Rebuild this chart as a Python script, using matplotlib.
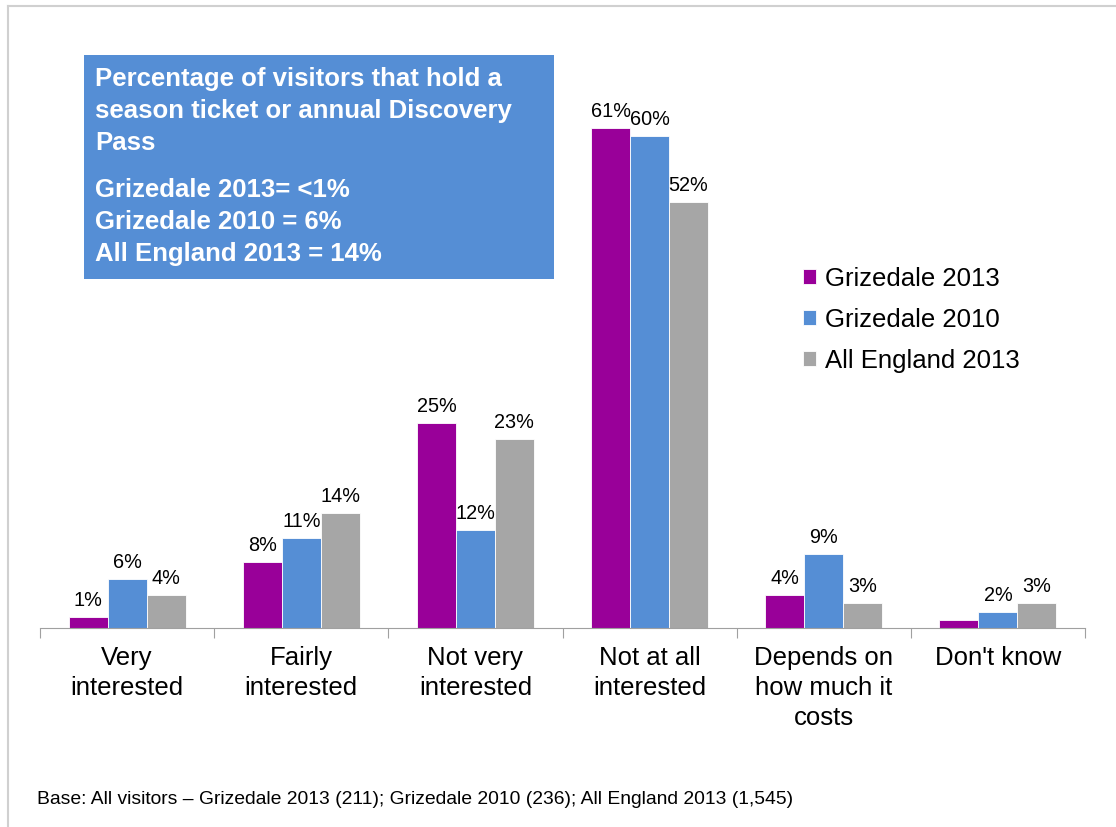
import numpy as np
import matplotlib.pyplot as plt
from matplotlib.lines import Line2D
from matplotlib.patches import Rectangle

plt.rcParams['font.family'] = ['Liberation Sans', 'DejaVu Sans']

categories = ["Very\ninterested", "Fairly\ninterested", "Not very\ninterested",
              "Not at all\ninterested", "Depends on\nhow much it\ncosts", "Don't know"]
series = ["Grizedale 2013", "Grizedale 2010", "All England 2013"]
griz_2013 = [1.3, 8, 25, 61, 4, 1]
griz_2010 = [6, 11, 12, 60, 9, 2]
england_2013 = [4, 14, 23, 52, 3, 3]
# printed labels (the Grizedale 2013 "Don't know" bar carries none)
labels_2013 = ["1%", "8%", "25%", "61%", "4%", ""]
labels_2010 = ["6%", "11%", "12%", "60%", "9%", "2%"]
labels_eng = ["4%", "14%", "23%", "52%", "3%", "3%"]
colors = ["#990099", "#558ED5", "#A6A6A6"]

W, H = 1116, 827
fig = plt.figure(figsize=(W / 100, H / 100), dpi=100)

# light frame line along top and left
fig.add_artist(Line2D([8 / W, 8 / W], [0, 1 - 6 / H], color="#D0D0D0", lw=1.5))
fig.add_artist(Line2D([8 / W, 1], [1 - 6 / H, 1 - 6 / H], color="#D0D0D0", lw=1.5))

ax = fig.add_axes([40 / W, 1 - 628 / H, (1085 - 40) / W, (628 - 54) / H])
x = np.arange(len(categories))
bw = 0.224
for k, (vals, labs) in enumerate(zip([griz_2013, griz_2010, england_2013],
                                     [labels_2013, labels_2010, labels_eng])):
    xs = x + (k - 1) * bw
    ax.bar(xs, vals, bw, color=colors[k], edgecolor="white", linewidth=0.6,
           label=series[k])
    for xi, v, lab in zip(xs, vals, labs):
        if lab:
            ax.annotate(lab, (xi, v), xytext=(0, 5), textcoords="offset points",
                        ha="center", va="bottom", fontsize=14.3)

ax.set_xlim(-0.5, len(categories) - 0.5)
ax.set_ylim(0, 70)
for s in ["top", "right", "left"]:
    ax.spines[s].set_visible(False)
ax.spines["bottom"].set_color("#A0A0A0")
ax.set_yticks([])
ax.set_xticks(np.arange(len(categories) + 1) - 0.5)
ax.set_xticklabels([])
ax.tick_params(axis="x", length=7, color="#A0A0A0")
for xi, c in zip(x, categories):
    ax.text(xi, -2.2, c, ha="center", va="top", fontsize=18.5,
            linespacing=1.32, transform=ax.transData)

leg = ax.legend(loc="upper left", bbox_to_anchor=(790 / W, 1 - 254 / H),
                bbox_transform=fig.transFigure, frameon=False, fontsize=18.5,
                handlelength=0.5, handleheight=0.5, handletextpad=0.35,
                labelspacing=0.66, borderpad=0)

# information box
fig.add_artist(Rectangle((84 / W, 1 - 279 / H), (554 - 84) / W, (279 - 55) / H,
                         transform=fig.transFigure, facecolor="#558ED5",
                         edgecolor="none"))
fig.text(95 / W, 1 - 67 / H,
         "Percentage of visitors that hold a\nseason ticket or annual Discovery\nPass",
         color="white", fontsize=18.5, fontweight="bold", va="top",
         linespacing=1.41)
fig.text(95 / W, 1 - 178 / H,
         "Grizedale 2013= <1%\nGrizedale 2010 = 6%\nAll England 2013 = 14%",
         color="white", fontsize=18.5, fontweight="bold", va="top",
         linespacing=1.41)

fig.text(37 / W, 1 - 800 / H,
         "Base: All visitors \u2013 Grizedale 2013 (211); Grizedale 2010 (236); All England 2013 (1,545)",
         fontsize=13.9, va="center")

fig.savefig("out.png", dpi=100)
